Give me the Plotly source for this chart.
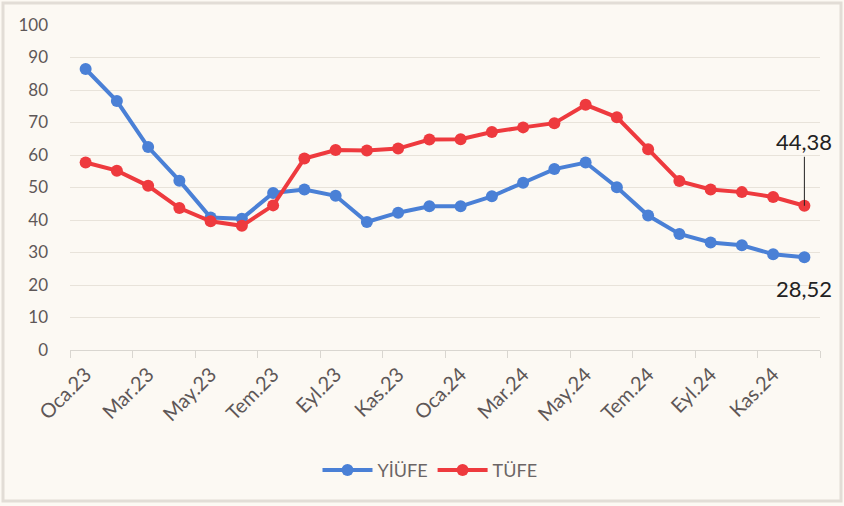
import plotly.graph_objects as go

months = ["Oca.23", "Şub.23", "Mar.23", "Nis.23", "May.23", "Haz.23", "Tem.23", "Ağu.23",
          "Eyl.23", "Eki.23", "Kas.23", "Ara.23", "Oca.24", "Şub.24", "Mar.24", "Nis.24",
          "May.24", "Haz.24", "Tem.24", "Ağu.24", "Eyl.24", "Eki.24", "Kas.24", "Ara.24"]
yiufe = [86.46, 76.61, 62.43, 52.11, 40.76, 40.42, 48.3, 49.41, 47.44, 39.39, 42.25, 44.22,
         44.20, 47.29, 51.47, 55.66, 57.68, 50.09, 41.37, 35.72, 33.09, 32.24, 29.47, 28.52]
tufe = [57.68, 55.18, 50.51, 43.68, 39.59, 38.21, 44.5, 58.94, 61.53, 61.36, 61.98, 64.77,
        64.86, 67.07, 68.50, 69.80, 75.45, 71.60, 61.78, 51.97, 49.38, 48.58, 47.09, 44.38]
yticks = [0, 10, 20, 30, 40, 50, 60, 70, 80, 90, 100]

BLUE = "#4a80d6"
RED = "#ee3a3e"
FONT = "Lato"
TXT = "#5e5757"

x = list(range(len(months)))
tick_idx = x[::2]

fig = go.Figure()
fig.add_trace(go.Scatter(x=x, y=yiufe, name="YİÜFE", mode="lines+markers",
                         line=dict(color=BLUE, width=4), marker=dict(size=12, color=BLUE)))
fig.add_trace(go.Scatter(x=x, y=tufe, name="TÜFE", mode="lines+markers",
                         line=dict(color=RED, width=4), marker=dict(size=12, color=RED)))

fig.add_annotation(x=x[-1], y=tufe[-1], text="44,38", showarrow=True, arrowhead=0,
                   arrowwidth=1, arrowcolor="#222222", ax=0, ay=-64,
                   font=dict(family=FONT, size=22, color="#222222"))
fig.add_annotation(x=x[-1], y=yiufe[-1], text="28,52", showarrow=False, yshift=-31,
                   font=dict(family=FONT, size=22, color="#222222"))

# outer border
W, H = 750, 325
fig.add_shape(type="rect", xref="paper", yref="paper",
              x0=(3 - 70) / W, x1=(841 - 70) / W, y0=(350 - 501) / H, y1=(350 - 3) / H,
              line=dict(color="#e2ddd6", width=3), fillcolor="rgba(0,0,0,0)", layer="below")

fig.update_layout(
    width=844, height=506,
    margin=dict(l=70, r=24, t=25, b=156),
    paper_bgcolor="#fcf9f3", plot_bgcolor="#fcf9f3",
    font=dict(family=FONT, color=TXT),
    showlegend=True,
    legend=dict(orientation="h", x=0.48, xanchor="center", y=-0.37, yanchor="middle",
                font=dict(size=18, color="#6b6565"), bgcolor="rgba(0,0,0,0)",
                itemwidth=50),
    xaxis=dict(range=[-0.5, 23.5], tickmode="array", tickvals=tick_idx,
               ticktext=[months[i] for i in tick_idx], tickangle=-45,
               tickfont=dict(size=20, color=TXT), showgrid=False, zeroline=False,
               showline=True, linecolor="#d9d6d0", linewidth=1, ticks="",
               ticklabelstandoff=4,
               minor=dict(tick0=-0.5, dtick=2, ticks="outside", ticklen=7,
                          tickcolor="#d9d6d0", showgrid=False)),
    yaxis=dict(range=[0, 100], tickmode="array", tickvals=yticks,
               tickfont=dict(size=17, color=TXT), showgrid=True, gridcolor="#e8e3da",
               gridwidth=1, zeroline=False, showline=False, ticks="",
               ticklabelstandoff=21),
)

fig.write_html("out.html", config={"displayModeBar": False},
               post_script="document.body.style.margin='0';document.body.style.padding='0';")
